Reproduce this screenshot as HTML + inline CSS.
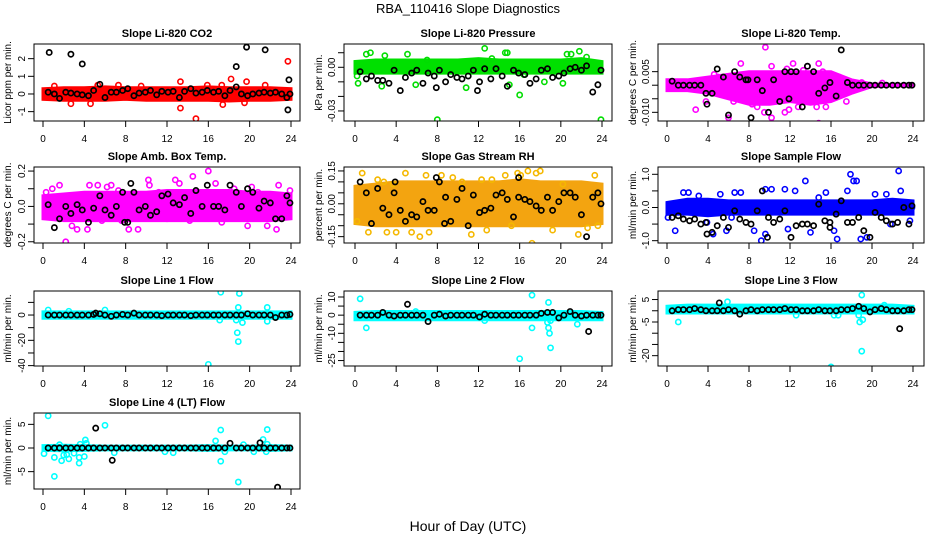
<!DOCTYPE html>
<html><head><meta charset="utf-8">
<style>
html,body{margin:0;padding:0;background:#fff;}
svg{display:block;font-family:"Liberation Sans",sans-serif;}
</style></head>
<body>
<svg id="chart" width="936" height="540" viewBox="0 0 936 540" xmlns="http://www.w3.org/2000/svg">
<rect x="0" y="0" width="936" height="540" fill="#fff"/>
<text x="468" y="13" text-anchor="middle" font-size="13">RBA_110416  Slope Diagnostics</text>
<text x="468" y="531" text-anchor="middle" font-size="14">Hour of Day (UTC)</text>
</svg>
<script>
// ---- shared categories ----
const bandHours=[0,2,4,6,8,10,12,14,16,18,20,22,24];
const blackHours=[0.5,1.1,1.6,2.2,2.7,3.3,3.8,4.4,4.9,5.5,6.0,6.6,7.1,7.7,8.2,8.8,9.3,9.9,10.4,11.0,11.5,12.1,12.6,13.2,13.7,14.3,14.8,15.4,15.9,16.5,17.0,17.6,18.1,18.7,19.2,19.8,20.3,20.9,21.4,22.0,22.5,23.1,23.6,23.9];
const xTicks=[0,4,8,12,16,20,24];

// ---- CO2 ----
const co2Lo=[-0.3,-0.35,-0.35,-0.35,-0.3,-0.35,-0.35,-0.35,-0.35,-0.4,-0.35,-0.35,-0.3];
const co2Hi=[0.3,0.35,0.35,0.4,0.35,0.35,0.35,0.35,0.4,0.35,0.35,0.35,0.3];
const co2OutH=[1.1,2.7,4.6,7.3,13.3,13.3,14.8,18.2,17.3,19.7,23.7,17.4,21.5,9.5,5.3,15.9,19.5];
const co2OutV=[0.45,-0.55,-0.55,0.5,0.7,-0.8,-1.4,0.85,0.5,0.7,1.85,-0.6,0.5,0.45,0.5,0.5,-0.5];
const co2BlkV=[0.1,0,-0.25,0.1,0.05,0,-0.05,-0.1,0.2,0.55,-0.2,0.1,0.1,0.2,0.3,-0.1,0.05,0.1,0.2,-0.05,0.15,0.1,0.15,-0.2,0.15,0.3,0.05,0.1,0.2,0.1,0.15,-0.1,0.2,0.4,0,-0.1,0,0.05,0.1,0.05,0.1,0,-0.2,0];
const co2ExH=[0.6,2.7,3.8,18.7,19.7,21.5,23.8,23.7];
const co2ExV=[2.35,2.25,1.7,1.55,2.65,2.5,0.8,-0.9];
const co2YTicks=[-1,0,1,2];
const co2YLabels=["-1","0","1","2"];

// ---- Pressure ----
const prLo=[-0.004,-0.004,-0.004,-0.004,-0.004,-0.004,-0.004,-0.004,-0.004,-0.004,-0.004,-0.004,-0.004];
const prHi=[0.004,0.005,0.005,0.005,0.005,0.005,0.006,0.005,0.005,0.005,0.005,0.006,0.004];
const prOutH=[0.2,0.3,1.1,1.5,2.6,2.9,5.1,5.9,7.0,8.0,10.8,12.6,13.3,14.6,14.8,15.0,16.0,16.4,18.4,20.6,21.0,21.8,22.5,23.9,20.2];
const prOutV=[-0.006,-0.011,0.009,0.01,-0.013,0.008,0.009,-0.012,0.005,-0.036,-0.014,0.013,0.006,0.01,0.01,-0.012,-0.019,-0.005,-0.01,0.009,0.009,0.011,0.007,-0.036,-0.011];
const prBlkV=[-0.003,-0.008,-0.006,-0.009,-0.009,-0.011,-0.002,-0.016,-0.007,-0.004,-0.002,-0.011,-0.004,-0.006,-0.002,-0.010,-0.005,-0.007,-0.008,-0.006,-0.002,-0.010,-0.001,-0.008,-0.001,-0.006,-0.013,-0.002,-0.004,-0.005,-0.011,-0.008,-0.002,-0.001,-0.007,-0.006,-0.004,-0.001,0.000,-0.002,0.001,-0.017,-0.012,-0.002];
const prExH=[7.9,11.9];
const prExV=[-0.014,-0.016];
const prYTicks=[-0.03,-0.02,-0.01,0,0.01];
const prYLabels=["-0.03","","","0.00",""];

// ---- Li-820 Temp ----
const tpLo=[-0.002,-0.002,-0.003,-0.005,-0.007,-0.007,-0.006,-0.007,-0.006,-0.003,-0.0005,-0.0003,-0.0003];
const tpHi=[0.002,0.002,0.003,0.004,0.005,0.005,0.005,0.005,0.005,0.002,0.0005,0.0003,0.0003];
const tpOutH=[0.3,2.8,5.0,6.0,7.2,8.3,9.5,9.6,10.2,10.2,11.7,11.9,12.8,13.3,14.6,14.8,14.8,15.5,16.2,16.8,17.5,19.0,21.0,4.6,6.5,11.5,12.3,13.7,15.2,8.8,3.8];
const tpOutV=[-0.001,-0.009,0.003,-0.012,0.008,-0.007,-0.01,0.014,0.007,-0.012,0.006,-0.009,-0.008,0.0055,-0.008,-0.014,0.008,-0.008,-0.003,0.003,-0.006,0.001,0.0008,0.004,-0.006,-0.01,0.008,0.007,0.005,-0.008,-0.006];
const tpBlkV=[0.0015,0,0,0,0,0,-0.003,-0.003,0.006,0.003,-0.011,0.005,0.003,0.002,-0.012,0.002,-0.002,-0.010,0.002,-0.006,0.005,0.005,0.005,-0.008,0.007,0.005,-0.003,-0.001,0.001,-0.004,0.013,0.001,0,0,0,0,0,0,0,0,0,0,0,0];
const tpExH=[3.9,7.9,11.9];
const tpExV=[-0.007,0.002,-0.005];
const tpYTicks=[-0.01,-0.005,0,0.005];
const tpYLabels=["-0.010","","","0.005"];

// ---- Amb Box Temp ----
const abLo=[-0.07,-0.08,-0.08,-0.08,-0.08,-0.08,-0.08,-0.08,-0.08,-0.08,-0.08,-0.08,-0.07];
const abHi=[0.06,0.07,0.08,0.08,0.08,0.08,0.09,0.09,0.09,0.09,0.08,0.08,0.07];
const abOutH=[0.3,0.9,1.6,2.2,2.8,3.3,4.5,4.3,5.3,6.2,6.6,7.3,8.3,9.2,10.2,10.3,11.2,12.8,13.2,14.5,16.0,16.7,17.3,19.8,20.2,21.7,22.6,22.8,23.9,3.5,5.7,12.0,14.2,18.5,20.8,7.6];
const abOutV=[0.08,0.1,0.12,-0.2,-0.11,-0.13,0.12,-0.13,0.12,0.11,0.12,0.09,-0.13,-0.13,0.15,0.12,0.08,0.15,0.13,0.17,0.2,0.13,-0.09,-0.11,0.11,-0.11,-0.13,0.12,0.09,0.05,-0.08,-0.07,-0.08,0.1,0.08,-0.08];
const abBlkV=[0.01,-0.12,-0.07,0.0,-0.04,0.01,-0.02,-0.09,-0.01,0.06,-0.02,-0.05,0.0,0.08,-0.09,0.08,-0.02,0.0,-0.05,-0.03,0.06,0.07,0.02,0.01,0.05,-0.04,0.09,0.0,0.12,0.0,0.0,-0.02,0.12,0.08,0.0,0.1,0.08,-0.01,0.03,0.02,-0.07,-0.07,0.06,0.02];
const abExH=[7.9,8.5];
const abExV=[-0.09,0.13];
const abYTicks=[-0.2,-0.1,0,0.1,0.2];
const abYLabels=["-0.2","","0.0","","0.2"];

// ---- Gas Stream RH ----
const rhLo=[-0.09,-0.1,-0.1,-0.1,-0.1,-0.1,-0.1,-0.1,-0.1,-0.1,-0.1,-0.1,-0.09];
const rhHi=[0.08,0.09,0.1,0.1,0.1,0.1,0.1,0.1,0.11,0.1,0.1,0.1,0.09];
const rhOutH=[0.7,1.3,2.2,2.8,3.1,4.0,4.9,5.5,6.3,6.9,7.2,8.4,9.5,10.4,11.3,12.3,13.3,14.6,15.8,16.1,16.8,17.2,17.6,18.0,19.2,20.2,21.7,22.6,23.3,23.6,0.2,3.7,12.8,15.2];
const rhOutV=[0.14,-0.13,0.11,0.1,-0.13,-0.13,0.14,-0.13,-0.15,0.13,-0.13,0.13,0.12,0.1,-0.14,0.11,0.11,0.13,0.14,0.13,0.15,-0.18,0.14,0.15,-0.12,0.09,-0.14,-0.11,0.13,-0.1,-0.08,0.09,-0.12,-0.1];
const rhBlkV=[0.1,0.05,-0.09,0.07,-0.02,-0.05,0.05,-0.03,-0.08,-0.05,-0.06,0.01,-0.03,-0.03,0.1,0.03,-0.08,0.02,0.07,-0.1,0.04,-0.04,-0.03,-0.02,0.04,0.05,0.02,-0.06,0.03,0.02,0.01,-0.01,-0.03,0.03,-0.03,0.01,0.05,0.05,0.03,-0.05,-0.15,0.03,0.05,0.0];
const rhExH=[3.9,7.9,8.7,15.9];
const rhExV=[0.1,0.12,-0.09,0.12];
const rhYTicks=[-0.15,-0.1,-0.05,0,0.05,0.1,0.15];
const rhYLabels=["-0.15","","","0.00","","","0.15"];

// ---- Sample Flow ----
const sfLo=[-0.2,-0.2,-0.25,-0.2,-0.2,-0.2,-0.2,-0.2,-0.2,-0.2,-0.2,-0.2,-0.2];
const sfHi=[0.15,0.25,0.25,0.2,0.2,0.2,0.2,0.2,0.2,0.2,0.2,0.25,0.2];
const sfOutH=[0.1,0.8,1.6,2.1,3.1,3.9,4.5,5.2,5.8,6.3,6.6,7.2,8.5,9.2,9.6,9.6,10.2,11.5,11.8,12.5,13.5,14.0,14.8,15.5,16.3,16.6,17.9,18.2,18.5,18.9,19.5,20.3,21.4,22.6,22.8,23.7,23.9,21.8,17.6];
const sfOutV=[-0.3,-0.7,0.45,0.45,0.35,-0.45,-0.8,0.4,-0.7,-0.3,0.45,0.45,-0.7,-1.0,0.55,-0.8,0.55,0.55,-0.65,0.5,0.8,-0.75,0.3,0.45,-0.7,-0.95,1.0,0.8,0.8,-0.95,-0.9,0.4,0.4,1.1,0.5,-0.4,0.0,-0.5,0.5];
const sfBlkV=[-0.3,-0.25,-0.35,-0.4,-0.35,-0.5,-0.45,-0.75,-0.55,-0.3,-0.6,-0.1,-0.35,-0.45,-0.5,-0.1,0.5,-0.3,-0.45,-0.35,-0.1,-0.9,-0.55,-0.5,-0.5,-0.55,0.1,-0.4,-0.6,-0.2,0.2,-0.45,-0.45,-0.3,-0.7,-0.9,-0.15,-0.3,-0.4,-0.5,-0.45,0,-0.5,0.05];
const sfExH=[3.9,9.8,15.9];
const sfExV=[-0.8,-0.9,-0.45];
const sfYTicks=[-1,-0.5,0,0.5,1];
const sfYLabels=["-1.0","","0.0","","1.0"];

// ---- Line 1 Flow ----
const l1Lo=[-2.5,-2.5,-2.5,-2.5,-2.5,-2.5,-2.5,-2.5,-2.5,-2.5,-2.5,-2.5,-2.5];
const l1Hi=[2.5,2.5,2.5,2.5,2.5,2.5,2.5,2.5,2.5,2.5,2.5,2.5,2.5];
const l1OutH=[0.5,2.5,6.0,17.2,17.1,18.8,18.9,19.0,18.9,19.3,21.7,21.7,16.0,18.7];
const l1OutV=[4,3,4,18,-4,-14,-21,17,6,-6,6,-5,-39,-4];
const l1BlkV=[0,0,0,0,0,0,0,0,0.5,1,0,-1,0,0.5,0,1.5,0,0,0,0,-0.5,0,0,0,0,-0.5,0,0,0,0,0,0,0,0,0,1,0,0,0,0,-2,0,0,0.5];
const l1ExH=[5.1];
const l1ExV=[1.5];
const l1YTicks=[-40,-30,-20,-10,0,10];
const l1YLabels=["-40","","-20","","0",""];

// ---- Line 2 Flow ----
const l2Lo=[-2.5,-2.5,-2.5,-2.5,-2.5,-2.5,-2.5,-2.5,-2.5,-2.5,-2.5,-2.5,-2.5];
const l2Hi=[1.5,2,2,2,2,2,2,2,2,2,2,2,1.5];
const l2OutH=[0.5,1.1,5.9,12.6,17.2,17.2,18.8,18.8,18.9,19.0,16.0,21.6,19.0,18.7];
const l2OutV=[9,-7,2,-3,11,-7,7,-7,-10,-18,-24,-5,-3,-4];
const l2BlkV=[0,0,0,0,1.5,0,-0.5,0,0,0,0,0,-3.5,0,0.5,-0.5,0,0,0,0,0,-1,0.5,0,0,0,0,0,0,0,0,0,1,1.5,1.5,-1.5,0,2,0,-0.5,0,0,0,0];
const l2ExH=[5.1,22.7];
const l2ExV=[6,-9];
const l2YTicks=[-25,-20,-15,-10,-5,0,5,10];
const l2YLabels=["-25","","","-10","","0","","10"];

// ---- Line 3 Flow ----
const l3Lo=[-1,-1,-1,-1,-1,-1,-1,-1,-1,-1,-1,-1,-1];
const l3Hi=[2,2.5,2.5,2.5,2.5,2.5,2.5,2.5,2.5,2.5,2.5,2.5,2];
const l3OutH=[1.1,5.9,12.6,16.3,16.7,18.7,18.8,19.0,19.0,16.0,21.2,19.1];
const l3OutV=[-5,4,-2,-2,-2,-2,-5,7,-18,-25,2.5,-4];
const l3BlkV=[0,0.5,0.5,0.5,1,0.5,0,0,0,0,0.5,0,-1.5,0,0.5,0,0.5,0.5,0.5,0.5,1,0.5,0.5,0,0,0,0.5,0,0,0,0.5,0.5,1,2,1,-0.5,0.5,1,0.5,0,0,0,0.5,0.5];
const l3ExH=[5.1,22.7];
const l3ExV=[3.5,-8];
const l3YTicks=[-20,-15,-10,-5,0,5];
const l3YLabels=["-20","","","-5","","5"];

// ---- Line 4 Flow ----
const l4Lo=[-0.5,-0.6,-0.5,-0.4,-0.4,-0.4,-0.4,-0.4,-0.5,-0.4,-0.4,-0.5,-0.4];
const l4Hi=[0.5,0.6,0.5,0.4,0.4,0.4,0.4,0.4,0.5,0.4,0.4,0.5,0.4];
const l4OutH=[0.1,0.5,1.1,1.1,1.6,1.8,2.0,2.3,2.5,3.0,3.5,3.5,3.6,4.0,4.1,4.2,6.0,6.9,11.8,12.6,16.7,17.2,17.2,17.6,18.9,19.4,20.4,21.3,21.7,21.7,21.6];
const l4OutV=[-1.2,6.8,-2,-6,0.7,-2.7,-1.5,-1.4,-2.3,-1.1,-3.2,-2,0.8,-1.8,1.7,1,4.8,-1,-0.8,-1,1.5,3.8,-2.8,-0.8,-7.2,0.7,-0.8,1.8,3.9,0.8,-0.8];
const l4BlkV=[0,0,0,0,0,0,0,0,0,0,0,0,0,0,0,0,0,0,0,0,0,0,0,0,0,0,0,0,0,0,0,0,1,0,0,0,0,0,0,0,0,0,0,0];
const l4ExH=[5.1,6.7,21.0,22.7];
const l4ExV=[4.2,-2.6,1.1,-8.3];
const l4YTicks=[-5,0,5];
const l4YLabels=["-5","0","5"];

// ---- layout (not data) ----
const cols=[{l:34,r:300,x0:43,x1:291,yl:11},{l:344,r:612,x0:355,x1:602,yl:322},{l:658,r:924,x0:667,x1:913,yl:636}];
const rows=[{t:44,b:121},{t:167,b:243},{t:291,b:366},{t:413,b:489}];

const panels=[
 {key:"co2",c:0,r:0,title:"Slope Li-820 CO2",ylab:"Licor ppm per min.",ylim:[-1.53,2.83],col:"#ff0000",band:"#ff0000",lo:co2Lo,hi:co2Hi,oh:co2OutH,ov:co2OutV,bv:co2BlkV,eh:co2ExH,ev:co2ExV,yt:co2YTicks,yl:co2YLabels},
 {key:"pressure",c:1,r:0,title:"Slope Li-820 Pressure",ylab:"kPa per min.",ylim:[-0.0369,0.016],col:"#00dd00",band:"#00e000",lo:prLo,hi:prHi,oh:prOutH,ov:prOutV,bv:prBlkV,eh:prExH,ev:prExV,yt:prYTicks,yl:prYLabels},
 {key:"temp",c:2,r:0,title:"Slope Li-820 Temp.",ylab:"degrees C per min.",ylim:[-0.0132,0.0152],col:"#ff00ff",band:"#ff00ff",lo:tpLo,hi:tpHi,oh:tpOutH,ov:tpOutV,bv:tpBlkV,eh:tpExH,ev:tpExV,yt:tpYTicks,yl:tpYLabels},
 {key:"amb-box",c:0,r:1,title:"Slope Amb. Box Temp.",ylab:"degrees C per min.",ylim:[-0.207,0.223],col:"#ff00ff",band:"#ff00ff",lo:abLo,hi:abHi,oh:abOutH,ov:abOutV,bv:abBlkV,eh:abExH,ev:abExV,yt:abYTicks,yl:abYLabels},
 {key:"rh",c:1,r:1,title:"Slope Gas Stream RH",ylab:"percent per min.",ylim:[-0.179,0.168],col:"#f5b800",band:"#f3a410",lo:rhLo,hi:rhHi,oh:rhOutH,ov:rhOutV,bv:rhBlkV,eh:rhExH,ev:rhExV,yt:rhYTicks,yl:rhYLabels},
 {key:"sample-flow",c:2,r:1,title:"Slope Sample Flow",ylab:"ml/min per min.",ylim:[-1.07,1.22],col:"#0000ff",band:"#0000ff",lo:sfLo,hi:sfHi,oh:sfOutH,ov:sfOutV,bv:sfBlkV,eh:sfExH,ev:sfExV,yt:sfYTicks,yl:sfYLabels},
 {key:"line1",c:0,r:2,title:"Slope Line 1 Flow",ylab:"ml/min per min.",ylim:[-40.3,19],col:"#00ffff",band:"#00ffff",lo:l1Lo,hi:l1Hi,oh:l1OutH,ov:l1OutV,bv:l1BlkV,eh:l1ExH,ev:l1ExV,yt:l1YTicks,yl:l1YLabels},
 {key:"line2",c:1,r:2,title:"Slope Line 2 Flow",ylab:"ml/min per min.",ylim:[-28,13.3],col:"#00ffff",band:"#00ffff",lo:l2Lo,hi:l2Hi,oh:l2OutH,ov:l2OutV,bv:l2BlkV,eh:l2ExH,ev:l2ExV,yt:l2YTicks,yl:l2YLabels},
 {key:"line3",c:2,r:2,title:"Slope Line 3 Flow",ylab:"ml/min per min.",ylim:[-24.6,8.8],col:"#00ffff",band:"#00ffff",lo:l3Lo,hi:l3Hi,oh:l3OutH,ov:l3OutV,bv:l3BlkV,eh:l3ExH,ev:l3ExV,yt:l3YTicks,yl:l3YLabels},
 {key:"line4",c:0,r:3,title:"Slope Line 4 (LT) Flow",ylab:"ml/min per min.",ylim:[-8.67,7.4],col:"#00ffff",band:"#00ffff",lo:l4Lo,hi:l4Hi,oh:l4OutH,ov:l4OutV,bv:l4BlkV,eh:l4ExH,ev:l4ExV,yt:l4YTicks,yl:l4YLabels}
];

const NS="http://www.w3.org/2000/svg";
const svg=document.getElementById("chart");
function mk(tag,attrs,parent){const e=document.createElementNS(NS,tag);for(const k in attrs)e.setAttribute(k,attrs[k]);parent.appendChild(e);return e;}

panels.forEach(p=>{
  const C=cols[p.c],R=rows[p.r];
  const xs=h=>C.x0+(C.x1-C.x0)*h/24;
  const ys=v=>R.b-(v-p.ylim[0])/(p.ylim[1]-p.ylim[0])*(R.b-R.t);
  const g=mk("g",{},svg);
  
  
  const clipId="clip-"+p.key;
  const cp=mk("clipPath",{id:clipId},g);
  mk("rect",{x:C.l,y:R.t,width:C.r-C.l,height:R.b-R.t},cp);
  const title=mk("text",{x:(C.l+C.r)/2,y:R.t-7,"text-anchor":"middle","font-size":"11","font-weight":"bold"},g);
  title.textContent=p.title;
  
  
  const yl=mk("text",{transform:`translate(${C.yl},${(R.t+R.b)/2}) rotate(-90)`,"text-anchor":"middle","font-size":"10"},g);
  yl.textContent=p.ylab;
  
  
  const marks=mk("g",{"clip-path":`url(#${clipId})`},g);
  
  
  // band from data
  let d="";
  bandHours.forEach((h,i)=>{d+=(i?"L":"M")+xs(h).toFixed(1)+","+ys(p.hi[i]).toFixed(1);});
  for(let i=bandHours.length-1;i>=0;i--){d+="L"+xs(bandHours[i]).toFixed(1)+","+ys(p.lo[i]).toFixed(1);}
  const band=mk("path",{d:d+"Z",fill:p.band,stroke:p.band,"stroke-width":"3"},marks);
  
  
  p.oh.forEach((h,i)=>{
    const c=mk("circle",{cx:xs(h),cy:ys(p.ov[i]),r:2.6,fill:"none",stroke:p.col,"stroke-width":"1.6"},marks);
    
    
  });
  blackHours.forEach((h,i)=>{
    const c=mk("circle",{cx:xs(h),cy:ys(p.bv[i]),r:2.6,fill:"none",stroke:"#000","stroke-width":"1.7"},marks);
    
    
  });
  p.eh.forEach((h,i)=>{
    const c=mk("circle",{cx:xs(h),cy:ys(p.ev[i]),r:2.6,fill:"none",stroke:"#000","stroke-width":"1.7"},marks);
    
    
  });
  const box=mk("rect",{x:C.l,y:R.t,width:C.r-C.l,height:R.b-R.t,fill:"none",stroke:"#000","stroke-width":"1"},g);
  
  
  // x axis
  xTicks.forEach(t=>{
    const x=xs(t);
    const tk=mk("line",{x1:x,x2:x,y1:R.b,y2:R.b+6,stroke:"#000","stroke-width":"1"},g);
    
    
    const lb=mk("text",{x:x,y:R.b+21,"text-anchor":"middle","font-size":"10"},g);
    lb.textContent=String(t);
    
    
  });
  // y axis
  p.yt.forEach((t,i)=>{
    const y=ys(t);
    const tk=mk("line",{x1:C.l-6,x2:C.l,y1:y,y2:y,stroke:"#000","stroke-width":"1"},g);
    
    
    if(p.yl[i]){
      const lb=mk("text",{transform:`translate(${C.l-9},${y}) rotate(-90)`,"text-anchor":"middle","font-size":"10"},g);
      lb.textContent=p.yl[i];
      
      
    }
  });
});
</script>
</body></html>
